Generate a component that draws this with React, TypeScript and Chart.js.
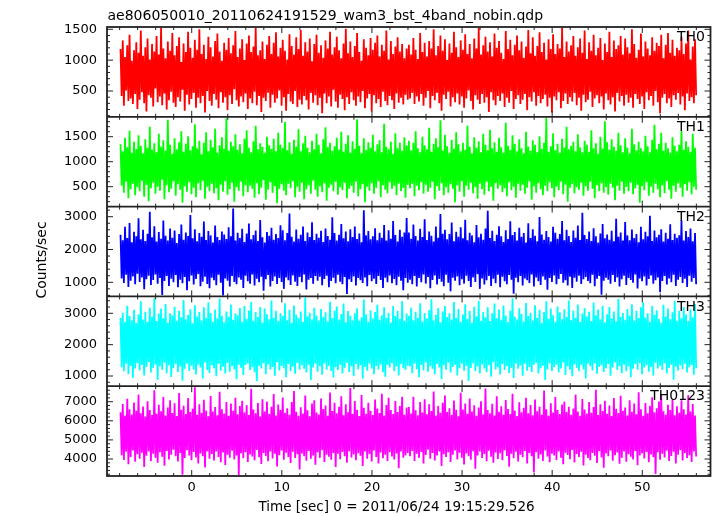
import React, { useEffect, useRef } from 'react';
import { Chart, registerables } from 'chart.js';

Chart.register(...registerables);

// ---------- texts ----------
const TITLE = 'ae806050010_20110624191529_wam3_bst_4band_nobin.qdp';
const X_TITLE = 'Time [sec] 0 = 2011/06/24 19:15:29.526';
const Y_TITLE = 'Counts/sec';
const PANEL_NAMES = ['TH0', 'TH1', 'TH2', 'TH3', 'TH0123'];

// ---------- time grid ----------
const T_START = -7.9;
const T_STEP = 0.125;

// ---------- series (counts/sec samples) ----------
const th0 = [
  1180, 420, 1320, 260, 1050, 510, 1240, 340, 1410, 380, 990, 290, 1160, 450, 1290, 210,
  1120, 360, 1480, 480, 1070, 300, 1210, 170, 1350, 430, 1010, 390, 1260, 250, 1140, 540,
  1390, 320, 1090, 410, 1520, 270, 1190, 460, 1030, 200, 1300, 350, 1150, 490, 1440, 310,
  1080, 240, 1230, 400, 1370, 330, 970, 520, 1270, 180, 1130, 440, 1460, 280, 1200, 370,
  1040, 470, 1330, 230, 1170, 390, 1500, 300, 1100, 420, 1250, 150, 1020, 500, 1380, 340,
  1210, 260, 1060, 450, 1310, 360, 1430, 220, 1140, 480, 990, 310, 1280, 400, 1170, 190,
  1360, 430, 1110, 290, 1240, 530, 1470, 350, 1050, 250, 1190, 410, 1340, 320, 1000, 460,
  1270, 210, 1400, 380, 1130, 300, 1220, 490, 1530, 270, 1080, 420, 1160, 160, 1300, 390,
  1020, 340, 1250, 470, 1390, 230, 1100, 440, 1280, 310, 1450, 380, 1060, 510, 1200, 260,
  1330, 400, 1150, 180, 1010, 450, 1420, 330, 1230, 290, 1090, 500, 1370, 240, 1180, 360,
  1490, 280, 1070, 420, 1290, 350, 1140, 200, 1350, 470, 980, 310, 1260, 430, 1410, 270,
  1120, 390, 1240, 140, 1040, 460, 1320, 300, 1190, 410, 1460, 250, 1090, 520, 1210, 330,
  1380, 230, 1160, 440, 1030, 370, 1270, 190, 1510, 400, 1110, 290, 1300, 480, 1050, 350,
  1230, 260, 1440, 410, 1130, 320, 990, 500, 1340, 220, 1200, 380, 1080, 450, 1360, 170,
  1170, 430, 1280, 300, 1400, 370, 1060, 240, 1250, 490, 1150, 340, 1480, 270, 1010, 420,
  1310, 350, 1100, 210, 1220, 460, 1370, 310, 1140, 390, 1260, 280, 1030, 440, 1190, 360,
  1250, 380, 1090, 470, 1360, 290, 1170, 410, 1020, 330, 1440, 450, 1130, 260, 1280, 390,
  1060, 500, 1310, 220, 1190, 420, 1500, 350, 1080, 470, 1230, 300, 1400, 180, 1150, 440,
  1340, 370, 1000, 490, 1270, 250, 1120, 400, 1460, 320, 1210, 460, 1050, 280, 1320, 410,
  1170, 230, 1420, 380, 1100, 510, 1260, 340, 1030, 200, 1350, 430, 1190, 360, 1520, 290,
  1090, 450, 1240, 310, 1380, 400, 1140, 160, 1290, 480, 1060, 350, 1430, 270, 1200, 420,
  1310, 340, 1120, 460, 1020, 240, 1470, 390, 1180, 310, 1330, 500, 1080, 210, 1250, 370,
  1400, 430, 1160, 290, 1300, 360, 1040, 450, 1220, 190, 1490, 400, 1110, 330, 1370, 480,
  1070, 260, 1230, 420, 1450, 300, 1130, 370, 1280, 440, 1010, 250, 1340, 390, 1180, 150,
  1420, 410, 1100, 350, 1260, 480, 1190, 220, 1530, 340, 1050, 460, 1300, 290, 1140, 400,
  1240, 330, 1390, 470, 1070, 270, 1210, 390, 1350, 180, 1120, 440, 1480, 320, 1020, 360,
  1290, 490, 1150, 240, 1410, 380, 1080, 430, 1200, 300, 1360, 410, 1000, 200, 1270, 460,
  1130, 350, 1460, 280, 1050, 400, 1320, 170, 1180, 470, 1240, 330, 1390, 420, 1090, 260,
  1350, 440, 1210, 310, 1110, 390, 1500, 230, 1260, 450, 1040, 370, 1170, 290, 1430, 410,
  1060, 210, 1300, 480, 1190, 350, 1080, 420, 1370, 260, 1150, 500, 1280, 320, 1230, 140,
  1410, 390, 1030, 450, 1250, 300, 1440, 380, 1120, 240, 1330, 430, 1070, 360, 1200, 470,
  1160, 280, 1380, 410, 1100, 190, 1270, 460, 1480, 340, 1010, 400, 1220, 300, 1340, 430,
];

const th1 = [
  1350, 520, 1210, 380, 1480, 600, 1290, 270, 1620, 450, 1180, 560, 1400, 330, 1260, 490,
  1530, 410, 1320, 620, 1170, 300, 1450, 540, 1280, 210, 1700, 470, 1240, 580, 1370, 360,
  1190, 500, 1560, 420, 1300, 640, 1430, 250, 1220, 530, 1840, 390, 1340, 460, 1160, 610,
  1470, 320, 1250, 550, 1390, 440, 1610, 180, 1200, 510, 1360, 400, 1510, 590, 1230, 350,
  1310, 480, 1750, 290, 1270, 570, 1420, 430, 1150, 620, 1380, 260, 1590, 500, 1210, 410,
  1440, 560, 1290, 370, 1660, 470, 1180, 230, 1330, 540, 1490, 400, 1260, 610, 1870, 340,
  1220, 450, 1400, 580, 1310, 200, 1550, 490, 1240, 420, 1350, 600, 1170, 310, 1460, 530,
  1630, 390, 1280, 520, 1190, 460, 1410, 280, 1720, 570, 1250, 350, 1370, 480, 1300, 630,
  1180, 240, 1500, 440, 1330, 590, 1260, 380, 1460, 510, 1210, 170, 1580, 460, 1340, 550,
  1270, 420, 1800, 330, 1230, 560, 1390, 470, 1160, 610, 1440, 290, 1300, 500, 1650, 400,
  1210, 580, 1370, 250, 1520, 450, 1280, 530, 1190, 360, 1420, 620, 1250, 440, 1560, 300,
  1340, 510, 1170, 390, 1450, 570, 1690, 220, 1290, 480, 1380, 540, 1220, 410, 1310, 600,
  1480, 340, 1240, 490, 1600, 430, 1200, 580, 1360, 270, 1530, 460, 1180, 520, 1410, 380,
  1260, 600, 1850, 310, 1320, 450, 1170, 550, 1470, 190, 1240, 500, 1390, 420, 1280, 570,
  1540, 360, 1210, 480, 1350, 610, 1430, 290, 1190, 530, 1760, 440, 1300, 370, 1250, 590,
  1400, 460, 1160, 520, 1570, 330, 1270, 560, 1380, 410, 1220, 480, 1490, 280, 1330, 540,
  1420, 470, 1230, 560, 1380, 310, 1610, 520, 1270, 430, 1190, 590, 1500, 360, 1330, 540,
  1250, 400, 1680, 480, 1200, 600, 1360, 250, 1470, 510, 1290, 420, 1830, 570, 1220, 330,
  1540, 490, 1310, 380, 1180, 550, 1440, 460, 1260, 190, 1590, 530, 1350, 400, 1210, 610,
  1380, 300, 1240, 520, 1720, 440, 1300, 580, 1170, 370, 1490, 490, 1280, 260, 1410, 560,
  1190, 450, 1560, 340, 1340, 600, 1230, 410, 1640, 500, 1270, 220, 1390, 570, 1200, 460,
  1480, 530, 1290, 390, 1180, 470, 1780, 310, 1320, 590, 1240, 430, 1530, 500, 1360, 280,
  1210, 560, 1450, 420, 1270, 540, 1170, 360, 1600, 480, 1300, 610, 1220, 240, 1430, 510,
  1340, 380, 1190, 570, 1510, 450, 1260, 330, 1380, 520, 1880, 410, 1200, 590, 1310, 470,
  1570, 290, 1230, 500, 1360, 430, 1180, 600, 1460, 350, 1280, 540, 1700, 200, 1250, 480,
  1320, 550, 1400, 370, 1210, 490, 1550, 440, 1290, 580, 1190, 320, 1420, 510, 1340, 420,
  1200, 600, 1630, 460, 1270, 270, 1370, 530, 1160, 410, 1500, 570, 1260, 380, 1810, 490,
  1390, 340, 1240, 560, 1450, 480, 1300, 230, 1220, 520, 1580, 420, 1330, 600, 1190, 360,
  1470, 500, 1280, 410, 1170, 580, 1660, 350, 1350, 470, 1230, 540, 1400, 180, 1270, 510,
  1210, 430, 1520, 590, 1310, 320, 1190, 500, 1440, 380, 1740, 560, 1250, 450, 1360, 290,
  1580, 530, 1220, 370, 1380, 610, 1270, 440, 1180, 260, 1490, 520, 1320, 400, 1210, 570,
  1340, 480, 1620, 300, 1240, 550, 1410, 420, 1300, 590, 1200, 350, 1560, 500, 1280, 440,
];

const th2 = [
  2450, 1120, 2280, 980, 2690, 1230, 2350, 860, 2810, 1050, 2220, 1180, 2540, 940, 2400, 1260,
  2950, 1010, 2310, 1150, 2600, 790, 2260, 1090, 2480, 1200, 3150, 920, 2370, 1070, 2710, 1240,
  2240, 960, 2530, 1130, 2330, 610, 2880, 1040, 2420, 1190, 2270, 890, 2640, 1110, 2360, 1000,
  2580, 1220, 2200, 850, 2470, 1080, 2760, 970, 2300, 1160, 2520, 760, 2410, 1030, 3050, 1210,
  2340, 930, 2620, 1100, 2250, 1250, 2500, 880, 2390, 1020, 2850, 1170, 2290, 950, 2560, 820,
  2430, 1140, 2210, 1060, 2730, 910, 2380, 1230, 2290, 990, 2550, 600, 2460, 1120, 2320, 1050,
  2680, 870, 2400, 1190, 3250, 1010, 2270, 940, 2510, 1150, 2350, 1080, 2630, 830, 2230, 1200,
  2490, 1030, 2790, 960, 2310, 1240, 2440, 900, 2580, 1110, 2260, 1000, 2900, 1170, 2370, 740,
  2210, 1090, 2530, 1220, 2420, 870, 2660, 1040, 2300, 1180, 2470, 950, 2350, 1130, 2740, 1010,
  2590, 800, 2280, 1150, 2500, 1060, 3100, 920, 2390, 1210, 2240, 1020, 2610, 890, 2330, 1160,
  2450, 1000, 2700, 1240, 2260, 780, 2520, 1080, 2380, 1130, 2830, 960, 2290, 1190, 2480, 1050,
  2360, 1170, 2570, 910, 2230, 1100, 2640, 1200, 2410, 850, 2300, 1040, 2980, 1140, 2500, 970,
  2270, 1230, 2450, 1020, 2780, 940, 2340, 1160, 2550, 640, 2250, 1090, 2620, 1010, 2380, 1180,
  2700, 900, 2320, 1130, 2490, 1060, 2220, 980, 3200, 1150, 2430, 880, 2560, 1220, 2310, 1030,
  2400, 1110, 2650, 950, 2280, 1190, 2510, 1070, 2360, 830, 2750, 1140, 2270, 1000, 2590, 1210,
  2330, 970, 2870, 1100, 2440, 910, 2240, 1170, 2600, 1050, 2390, 760, 2520, 1130, 2960, 990,
  2520, 1080, 2330, 940, 2760, 1190, 2410, 870, 2270, 1130, 2630, 1000, 2380, 1240, 2920, 960,
  2290, 1160, 2550, 820, 2420, 1070, 2240, 1210, 2700, 930, 2360, 1100, 3080, 1020, 2480, 880,
  2600, 1230, 2310, 990, 2470, 730, 2820, 1140, 2250, 1050, 2540, 1180, 2390, 910, 2680, 1090,
  2340, 960, 2910, 1200, 2280, 1040, 2510, 860, 2430, 1150, 2220, 1010, 2750, 1250, 2370, 800,
  2480, 1120, 2300, 930, 2640, 1060, 3180, 1190, 2350, 890, 2570, 1110, 2260, 970, 2450, 1230,
  2710, 850, 2400, 1170, 2230, 1030, 2590, 940, 2320, 1220, 2860, 1080, 2440, 650, 2530, 1140,
  2270, 1000, 2660, 1190, 2390, 900, 2500, 1120, 2210, 1060, 2800, 980, 2350, 1240, 2620, 870,
  2420, 1150, 2250, 1030, 2990, 920, 2460, 1180, 2300, 1080, 2560, 770, 2380, 1130, 2240, 1010,
  2690, 1210, 2510, 940, 2330, 1100, 2470, 1250, 2870, 990, 2280, 1060, 2600, 900, 2410, 1170,
  2230, 830, 2580, 1140, 2360, 1020, 2730, 1200, 2290, 950, 3120, 1090, 2440, 1160, 2320, 1040,
  2550, 970, 2260, 1230, 2650, 880, 2400, 1110, 2210, 1190, 2490, 620, 2780, 1050, 2340, 1140,
  2460, 1080, 2300, 960, 2570, 1220, 2250, 1010, 2940, 1150, 2390, 870, 2520, 1090, 2270, 1200,
  2840, 920, 2430, 1130, 2280, 1070, 2610, 990, 2350, 1240, 2470, 810, 2220, 1120, 2690, 1030,
  2310, 1180, 2540, 900, 2400, 1100, 3030, 1210, 2260, 960, 2580, 1060, 2370, 1150, 2450, 700,
  2620, 1040, 2240, 1190, 2510, 930, 2330, 1120, 2770, 1000, 2290, 1230, 2480, 890, 2360, 1080,
  2430, 1160, 2890, 980, 2270, 1110, 2560, 860, 2380, 1200, 2640, 1020, 2250, 1130, 2500, 940,
];

const th3 = [
  2850, 1280, 3020, 1150, 2730, 1390, 3240, 1060, 2910, 1320, 2780, 940, 3110, 1240, 2690, 1410,
  2960, 1180, 3380, 1350, 2800, 1020, 3050, 1290, 2720, 1440, 3180, 1110, 2880, 1260, 3490, 1370,
  2750, 880, 2990, 1310, 3150, 1200, 2840, 1420, 3300, 1090, 2700, 1340, 3000, 970, 2930, 1250,
  3210, 1380, 2760, 1130, 3080, 1300, 2870, 850, 3420, 1230, 2810, 1400, 2950, 1160, 3130, 1330,
  2680, 1210, 3260, 1050, 2900, 1360, 3040, 1270, 2770, 920, 3190, 1430, 2860, 1190, 3350, 1100,
  3010, 1340, 2740, 1250, 3120, 990, 2830, 1390, 3470, 1170, 2920, 1300, 2710, 1080, 3060, 1420,
  2890, 1140, 3280, 1320, 2790, 1220, 3000, 900, 2940, 1360, 3170, 1260, 2730, 1030, 3230, 1350,
  2820, 1400, 3090, 1190, 3360, 1280, 2760, 1120, 3040, 830, 2880, 1330, 3200, 1240, 2700, 1410,
  3150, 1060, 2970, 1370, 2810, 1210, 3410, 1290, 2860, 1010, 3080, 1440, 2750, 1180, 3000, 1320,
  2910, 1250, 3320, 960, 2780, 1380, 3110, 1150, 2690, 1300, 3250, 1070, 2950, 1420, 2840, 1200,
  3060, 1340, 2720, 1230, 3500, 1110, 2900, 1360, 3020, 870, 2800, 1270, 3180, 1390, 2930, 1140,
  2770, 1310, 3140, 1040, 2880, 1400, 3030, 1200, 2740, 1330, 3370, 1160, 2850, 950, 3090, 1280,
  3220, 1190, 2800, 1350, 2980, 1080, 3310, 1260, 2710, 1420, 3070, 1130, 2920, 1310, 2780, 1000,
  3000, 1380, 3160, 1220, 2760, 1340, 2870, 910, 3440, 1290, 2960, 1170, 2730, 1400, 3100, 1240,
  2830, 1060, 3040, 1320, 3270, 1210, 2790, 1370, 2940, 1120, 3190, 980, 2860, 1350, 3020, 1270,
  2700, 1410, 3230, 1150, 2910, 1300, 3080, 1020, 2820, 1380, 3390, 1250, 2750, 1190, 2990, 1330,
  2920, 1300, 3180, 1090, 2780, 1400, 3050, 1220, 2860, 960, 3320, 1350, 2740, 1180, 3010, 1430,
  2830, 1140, 3100, 1310, 3450, 1230, 2770, 1060, 2950, 1380, 3170, 1270, 2710, 900, 3060, 1340,
  3230, 1200, 2880, 1420, 3000, 1110, 2790, 1290, 3360, 1360, 2850, 1020, 3140, 1250, 2730, 1390,
  2960, 1170, 3290, 1330, 2820, 840, 3070, 1260, 2700, 1410, 3210, 1150, 2900, 1300, 3400, 1080,
  2760, 1370, 3040, 1240, 2870, 1120, 3190, 1350, 2750, 980, 3000, 1440, 3310, 1210, 2840, 1280,
  3120, 1050, 2790, 1380, 3250, 1190, 2930, 1320, 2720, 1100, 3080, 1260, 3480, 940, 2890, 1400,
  2800, 1230, 3160, 1340, 2980, 1010, 2740, 1390, 3330, 1170, 2910, 1290, 3020, 1130, 2770, 1360,
  3260, 1420, 2850, 1080, 3110, 1250, 2690, 1330, 3040, 870, 3380, 1210, 2820, 1400, 3150, 1160,
  2940, 1280, 2730, 1360, 3220, 1120, 3030, 1240, 2810, 1430, 3130, 1030, 2880, 1310, 3410, 1200,
  2780, 990, 3090, 1370, 2860, 1260, 3280, 1150, 2720, 1350, 2990, 1220, 3170, 920, 2900, 1390,
  3050, 1310, 2750, 1180, 3340, 1400, 2940, 1070, 3120, 1290, 2800, 1340, 3240, 1130, 2710, 1250,
  2970, 1380, 3200, 1010, 2830, 1270, 3060, 1430, 2740, 1190, 3460, 1320, 2880, 1090, 3010, 1360,
  2790, 1150, 3140, 1300, 2920, 960, 3290, 1230, 2770, 1380, 3080, 1200, 2850, 1410, 3190, 1060,
  3350, 1270, 2860, 1350, 3000, 1140, 2730, 1290, 3230, 1020, 2950, 1420, 3100, 1240, 2820, 1330,
  2700, 1190, 3270, 1410, 2900, 1080, 3150, 1260, 2810, 1360, 3030, 880, 3390, 1300, 2760, 1170,
  3080, 1340, 2840, 1220, 3200, 1390, 2960, 1110, 2750, 1280, 3120, 1350, 2870, 1040, 3300, 1250,
];

const th0123 = [
  6450, 4200, 6880, 3950, 6270, 4380, 7150, 3720, 6610, 4100, 6330, 4450, 6960, 3860, 6520, 4250,
  7380, 4020, 6400, 4330, 6750, 3580, 6220, 4170, 7020, 4400, 6560, 3900, 6300, 4280, 7600, 4060,
  6370, 3800, 6840, 4350, 6500, 4120, 7250, 3650, 6280, 4420, 6690, 3980, 7080, 4230, 6410, 4480,
  6920, 4150, 6250, 3870, 7450, 4310, 6580, 3180, 6790, 4050, 6350, 4460, 7190, 4190, 6460, 3930,
  6630, 4370, 7750, 4080, 6310, 3760, 6870, 4290, 6420, 4140, 7100, 3550, 6540, 4410, 6240, 4010,
  7300, 4260, 6480, 3920, 6720, 4390, 6290, 4110, 7520, 3830, 6600, 4340, 6380, 3690, 6990, 4220,
  6260, 4070, 6910, 4430, 6530, 3980, 7200, 4180, 6340, 3150, 6770, 4300, 7050, 4040, 6440, 4360,
  6820, 3850, 6300, 4240, 7680, 4130, 6590, 3940, 6390, 4470, 6930, 4090, 6230, 3740, 7130, 4320,
  6490, 4160, 7010, 3880, 6360, 4400, 6740, 4030, 7400, 4270, 6280, 3610, 6850, 4200, 6570, 4440,
  7220, 3960, 6420, 4330, 6650, 4100, 6310, 3790, 6980, 4380, 7560, 4050, 6470, 4250, 6270, 3450,
  6710, 4290, 6380, 4140, 7320, 3910, 6550, 4420, 6240, 4020, 6900, 4190, 7070, 3700, 6430, 4350,
  6330, 4060, 7170, 4460, 6620, 3840, 6800, 4230, 6260, 4120, 7480, 3960, 6510, 4310, 6950, 3580,
  6400, 4280, 6730, 3990, 7280, 4370, 6290, 4150, 6860, 3810, 6450, 4410, 7720, 4080, 6350, 4240,
  7040, 3930, 6580, 4300, 6250, 4170, 7350, 3630, 6680, 4390, 6370, 4010, 6940, 4260, 6520, 3870,
  6300, 4450, 7110, 4110, 6640, 3760, 6410, 4340, 7420, 4040, 6270, 4220, 6830, 3900, 7200, 4360,
  6560, 4130, 6350, 3980, 7030, 4290, 6460, 3520, 6780, 4400, 7260, 4070, 6320, 4180, 6700, 4310,
  6720, 4150, 6380, 4420, 7260, 3890, 6550, 4280, 6290, 4060, 6990, 4370, 6430, 3770, 7130, 4210,
  6340, 4480, 6860, 4020, 6510, 4310, 7540, 3920, 6270, 4190, 6780, 4400, 6420, 3640, 6950, 4250,
  7330, 4100, 6460, 4360, 6650, 3850, 6300, 4230, 7060, 4450, 6580, 3980, 6240, 4330, 7470, 4070,
  6590, 3710, 6910, 4290, 6370, 4140, 7170, 3960, 6480, 4410, 6810, 3490, 6260, 4180, 6700, 4390,
  7020, 4050, 6330, 4260, 7690, 3880, 6560, 4430, 6400, 4120, 6890, 3810, 6280, 4340, 7280, 4000,
  6470, 4300, 6760, 3930, 6310, 4460, 7090, 4160, 6620, 3590, 6360, 4270, 7410, 4040, 6540, 4380,
  6250, 3870, 6970, 4220, 6450, 4090, 6680, 4420, 7210, 3760, 6390, 4310, 6830, 4150, 6290, 3300,
  7110, 4360, 6500, 4010, 6740, 4240, 6320, 3900, 7580, 4440, 6600, 4130, 6270, 3830, 6920, 4280,
  6430, 4190, 7240, 3950, 6570, 4400, 6350, 4070, 6850, 3720, 7000, 4330, 6460, 4210, 6730, 3990,
  6310, 4470, 6640, 3820, 7370, 4260, 6490, 4110, 6260, 4380, 7140, 3660, 6590, 4230, 6380, 4050,
  6990, 3940, 6420, 4320, 6720, 4170, 7620, 3790, 6300, 4410, 6870, 4080, 6510, 3540, 7050, 4290,
  6370, 4140, 6800, 4450, 6250, 3910, 7190, 4200, 6630, 4340, 6410, 3750, 7310, 4060, 6530, 4390,
  6690, 3860, 6280, 4250, 7080, 4120, 6470, 3970, 6900, 4420, 6340, 3680, 7500, 4180, 6600, 4300,
  6260, 4030, 6930, 4370, 6390, 3830, 6770, 4240, 7230, 4100, 6450, 3220, 6660, 4350, 7010, 3960,
  7390, 4270, 6500, 4080, 6310, 4430, 6840, 3900, 6560, 4160, 7120, 4380, 6290, 3770, 6760, 4220,
  6420, 4460, 7080, 3920, 6610, 4310, 6330, 4050, 7340, 4200, 6480, 3850, 6880, 4400, 6270, 4130,
];

const SERIES = [th0, th1, th2, th3, th0123];

// ---------- axes ----------
const X_RANGE = [-9.4, 57.57];
const X_TICKS = [0, 10, 20, 30, 40, 50];
const Y_TICKS = [
  [500, 1000, 1500],
  [500, 1000, 1500],
  [1000, 2000, 3000],
  [1000, 2000, 3000],
  [4000, 5000, 6000, 7000],
];
const Y_RANGES = [
  [82, 1537],
  [102, 1898],
  [570, 3308],
  [675, 3539],
  [3110, 7812],
];
const Y_MINOR = [100, 100, 200, 200, 200];
const COLORS = ['#ff0000', '#00ff00', '#0000ff', '#00ffff', '#ff00ff'];

const FONT = '"DejaVu Sans", "Liberation Sans", sans-serif';
const FRAME = '#222222';

const yId = (i: number) => 'y' + i;

const qdpPlugin = {
  id: 'qdpFrame',
  beforeDatasetDraw(chart: any, args: any) {
    const ds = chart.data.datasets[args.index];
    const ys = chart.scales[ds.yAxisID];
    const ca = chart.chartArea;
    const ctx = chart.ctx;
    ctx.save();
    ctx.beginPath();
    ctx.rect(ca.left, ys.top, ca.right - ca.left, ys.bottom - ys.top);
    ctx.clip();
  },
  afterDatasetDraw(chart: any) {
    chart.ctx.restore();
  },
  afterDraw(chart: any) {
    const ctx = chart.ctx as CanvasRenderingContext2D;
    const ca = chart.chartArea;
    const xs = chart.scales.x;
    ctx.save();
    ctx.strokeStyle = FRAME;
    ctx.lineWidth = 1;
    const line = (x1: number, y1: number, x2: number, y2: number) => {
      ctx.beginPath();
      ctx.moveTo(x1, y1);
      ctx.lineTo(x2, y2);
      ctx.stroke();
    };
    PANEL_NAMES.forEach((_, i) => {
      const ys = chart.scales[yId(i)];
      const step = Y_MINOR[i];
      for (let v = Math.ceil(ys.min / step) * step; v <= ys.max; v += step) {
        const y = ys.getPixelForValue(v);
        const len = Y_TICKS[i].includes(v) ? 6 : 3;
        line(ca.left, y, ca.left + len, y);
        line(ca.right, y, ca.right - len, y);
      }
      for (let v = -8; v <= 56; v += 2) {
        const x = xs.getPixelForValue(v);
        const len = v % 10 === 0 ? 6 : 3;
        line(x, ys.top, x, ys.top + len);
        line(x, ys.bottom, x, ys.bottom - len);
      }
    });
    ctx.lineWidth = 1.8;
    ctx.strokeRect(ca.left, ca.top, ca.right - ca.left, ca.bottom - ca.top);
    PANEL_NAMES.forEach((_, i) => {
      if (i === PANEL_NAMES.length - 1) return;
      const ys = chart.scales[yId(i)];
      line(ca.left, ys.bottom, ca.right, ys.bottom);
    });

    ctx.fillStyle = '#000';
    ctx.font = '14px ' + FONT;
    ctx.textAlign = 'left';
    ctx.textBaseline = 'alphabetic';
    ctx.fillText(TITLE, 107.5, 19.5);

    ctx.textAlign = 'right';
    ctx.textBaseline = 'middle';
    PANEL_NAMES.forEach((name, i) => {
      const ys = chart.scales[yId(i)];
      ctx.fillText(name, ca.right - 5.5, ys.top + 10.5);
    });

    ctx.font = '13.5px ' + FONT;
    ctx.textAlign = 'center';
    ctx.fillText(X_TITLE, 396.5, 507);

    ctx.font = '14px ' + FONT;
    ctx.translate(42, 260);
    ctx.rotate(-Math.PI / 2);
    ctx.fillText(Y_TITLE, 0, 0);
    ctx.restore();
  },
};

export default function App() {
  const ref = useRef<HTMLCanvasElement>(null);

  useEffect(() => {
    const datasets = SERIES.map((s, i) => ({
      label: PANEL_NAMES[i],
      data: s.map((v, k) => ({ x: T_START + k * T_STEP, y: v })),
      borderColor: COLORS[i],
      backgroundColor: COLORS[i],
      borderWidth: 1.8,
      borderJoinStyle: 'bevel',
      pointRadius: 0,
      tension: 0,
      fill: false,
      xAxisID: 'x',
      yAxisID: yId(i),
    }));

    const scales: any = {
      x: {
        type: 'linear',
        position: 'bottom',
        min: X_RANGE[0],
        max: X_RANGE[1],
        grid: { display: false, drawTicks: false },
        border: { display: false },
        afterBuildTicks: (sc: any) => {
          sc.ticks = X_TICKS.map((v) => ({ value: v }));
        },
        afterFit: (sc: any) => {
          sc.height = 40;
        },
        ticks: {
          autoSkip: false,
          maxRotation: 0,
          padding: 4,
          color: '#000',
          font: { family: FONT, size: 13 },
          callback: (v: any) => String(v),
        },
      },
    };
    // defined bottom-to-top so the last one sits on top of the stack
    for (let i = PANEL_NAMES.length - 1; i >= 0; i--) {
      scales[yId(i)] = {
        type: 'linear',
        position: 'left',
        stack: 'panels',
        stackWeight: 1,
        min: Y_RANGES[i][0],
        max: Y_RANGES[i][1],
        grid: { display: false, drawTicks: false },
        border: { display: false },
        afterBuildTicks: (sc: any) => {
          sc.ticks = Y_TICKS[i].map((v) => ({ value: v }));
        },
        afterFit: (sc: any) => {
          sc.width = 99;
        },
        ticks: {
          autoSkip: false,
          padding: 10,
          color: '#000',
          font: { family: FONT, size: 13 },
          callback: (v: any) => String(v),
        },
      };
    }

    const chart = new Chart(ref.current as HTMLCanvasElement, {
      type: 'line',
      data: { datasets },
      options: {
        animation: false,
        responsive: false,
        devicePixelRatio: 1,
        layout: { padding: { left: 8, right: 6.5, top: 27, bottom: 0 } },
        plugins: {
          legend: { display: false },
          title: { display: false },
          tooltip: { enabled: false },
        },
        events: [],
        scales,
      } as any,
      plugins: [qdpPlugin],
    });
    return () => chart.destroy();
  }, []);

  return (
    <div style={{ position: 'fixed', left: 0, top: 0, width: 717, height: 516, background: '#fff' }}>
      <canvas ref={ref} width={717} height={516} style={{ display: 'block', width: 717, height: 516 }} />
    </div>
  );
}
